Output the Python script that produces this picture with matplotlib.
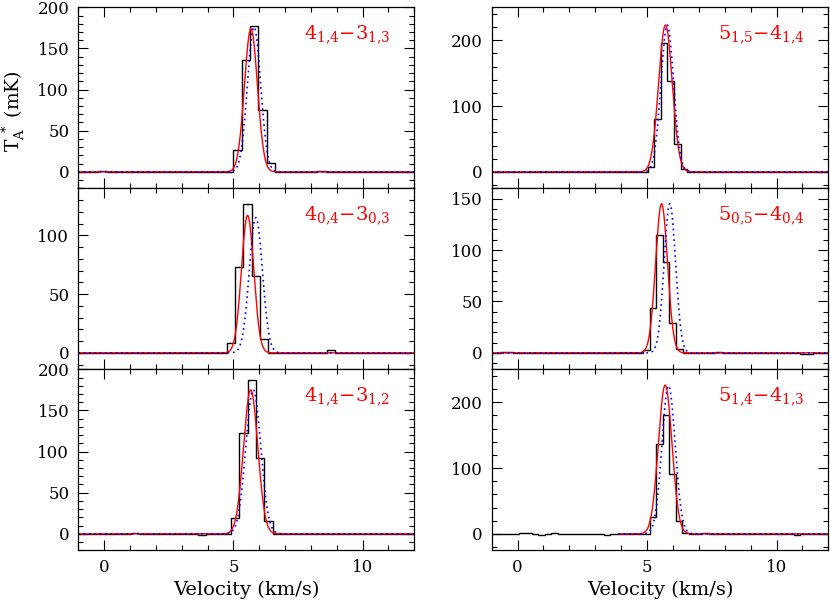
import numpy as np
import matplotlib
matplotlib.use('Agg')
import matplotlib.pyplot as plt
from matplotlib.ticker import MultipleLocator

plt.rcParams['font.family'] = ['DejaVu Serif']
plt.rcParams['mathtext.fontset'] = 'dejavuserif'

# ---------------- data ----------------
labels = [r'$4_{1{,}4}{-}3_{1{,}3}$', r'$4_{0{,}4}{-}3_{0{,}3}$', r'$4_{1{,}4}{-}3_{1{,}2}$',
          r'$5_{1{,}5}{-}4_{1{,}4}$', r'$5_{0{,}5}{-}4_{0{,}4}$', r'$5_{1{,}4}{-}4_{1{,}3}$']

# channel grids (first edge km/s, channel width km/s)
chan_start = [-1.204, -1.376, -1.225, -1.355, -1.19, -1.225]
chan_width = [0.326, 0.322, 0.323, 0.255, 0.252, 0.253]

# observed antenna temperature per channel (mK)
tl_obs = [0, 0, 0, 1, 0, 0, 0, 0, 0, 0, 0, 0, 0, 0, 0, 0, 0, 0, 0,
          26, 136, 177, 75, 11,
          0, 0, 0, 0, 0, 1, 0, 0, 0, 0, 0, 0, 0, 0, 0, 0, 0]
ml_obs = [0, 0, 0, 0, 0, 0, 0, 0, 0, 0, 0, 0, 0, 0, 0, 0, 0, 0, 0,
          8, 73, 127, 65, 12,
          0, 0, 0, 0, 0, 0, 0, 2, 0, 0, 0, 0, 0, 0, 0, 0, 0]
bl_obs = [0, 0, 0, 0, 0, 0, 0, 1, 0, 0, 0, 0, 0, 0, 0, -1, 0, 0, 0,
          19, 122, 187, 92, 16,
          0, 0, 0, 0, 0, 0, 0, 0, 0, 0, 0, 0, 0, 0, 0, 0, 0]
tr_obs = [0, 0, 0, 0, 0, 0, 0, 0, 0, 0, 0, 0, 0, 0, 0, 0, 0, 0, 0, 0,
          0, 0, 0, 0, 0,
          8, 80, 196, 138, 43, 4,
          0, 0, 0, 0, 0, 0, 0, 0, 0, 0, 0, 0, 0, 0, 0, 0, 0, 0, 0, 0, 0, 0]
mr_obs = [0, 0, 1, 1, 0, 0, 0, 0, 0, 0, 0, 0, 0, 0, 0, 0, 0, 0, 0, 0,
          0, 0, 0, 0, 3,
          44, 115, 88, 29, 4,
          0, 0, 0, 0, 0, 1, 0, 0, 0, 0, 0, 0, 0, 0, 0, 0, 0, 0, -1, -1, 0, 0, 0]
br_obs = [0, 0, 0, 0, 0, 1, 1, 0, -1, 0, 1, 0, 0, 0, 0, 0, 0, 0, -1, 0,
          0, 0, 0, 0, 0,
          26, 136, 181, 91, 20, 2,
          0, 0, 2, 0, 0, 0, 0, 0, 0, 0, 0, 0, 0, 0, 0, 0, -1, 0, 0, 0, 0, 0]
observed = [tl_obs, ml_obs, bl_obs, tr_obs, mr_obs, br_obs]

# Gaussian fit (red) and model (blue): amplitude mK, centre km/s, FWHM km/s
red_fit = [(174, 5.68, 0.59), (117, 5.55, 0.56), (175, 5.67, 0.65),
           (223, 5.71, 0.62), (145, 5.56, 0.54), (226, 5.70, 0.62)]
blue_model = [(176, 5.80, 0.60), (115, 5.87, 0.60), (175, 5.77, 0.68),
              (223, 5.78, 0.58), (145, 5.88, 0.52), (225, 5.83, 0.60)]
model_vmin = [-1, -1, -1, -1, -1, 3.9]

y_top = [200, 140, 200, 250, 160, 250]
y_major = [50, 50, 50, 100, 50, 100]
y_minor = [10, 10, 10, 20, 10, 20]

x_range = (-1, 12)

# ---------------- figure ----------------
fig = plt.figure(figsize=(8.3, 6.02), dpi=100)
W, H = 830.0, 602.0
col_x = [78.3, 491.7]
col_w = [336.0, 336.6]
row_top = 7.3
row_h = 181.0


def gauss(v, p):
    a, c, f = p
    s = f / 2.3548
    return a * np.exp(-0.5 * ((v - c) / s) ** 2)


for i in range(6):
    col, row = divmod(i, 3)
    left = col_x[col] / W
    bottom = 1 - (row_top + row_h * (row + 1)) / H
    ax = fig.add_axes([left, bottom, col_w[col] / W, row_h / H])

    vals = np.array(observed[i], dtype=float)
    edges = chan_start[i] + chan_width[i] * np.arange(len(vals) + 1)
    ax.stairs(vals, edges, color='black', lw=1.0, baseline=None)

    v = np.linspace(model_vmin[i], 12, 1500)
    ax.plot(v, gauss(v, red_fit[i]), color='red', lw=1.0)
    ax.plot(v, gauss(v, blue_model[i]), color='blue', lw=1.2,
            linestyle=(0, (1, 2.2)))

    ax.set_xlim(*x_range)
    ax.set_ylim(-0.1 * y_top[i], y_top[i])
    ax.xaxis.set_major_locator(MultipleLocator(5))
    ax.xaxis.set_minor_locator(MultipleLocator(1))
    ax.yaxis.set_major_locator(MultipleLocator(y_major[i]))
    ax.yaxis.set_minor_locator(MultipleLocator(y_minor[i]))
    ax.tick_params(which='both', direction='in', top=True, right=True,
                   width=0.8, labelsize=12)
    ax.tick_params(which='major', length=7.5, pad=6.5)
    ax.tick_params(which='minor', length=3.8)
    for sp in ax.spines.values():
        sp.set_linewidth(0.9)
    if row < 2:
        ax.tick_params(labelbottom=False)
    else:
        ax.set_xlabel('Velocity (km/s)', fontsize=14, labelpad=3)
    ax.text(1 - 24 / col_w[col], 1 - 32 / row_h, labels[i], color='red',
            fontsize=14, ha='right', va='baseline', transform=ax.transAxes)

fig.text(14 / W, 1 - 111 / H, r'T$_\mathrm{A}^{\ *}$ (mK)', rotation=90,
         ha='center', va='center', fontsize=13.5)

fig.savefig('out.png', dpi=100)
